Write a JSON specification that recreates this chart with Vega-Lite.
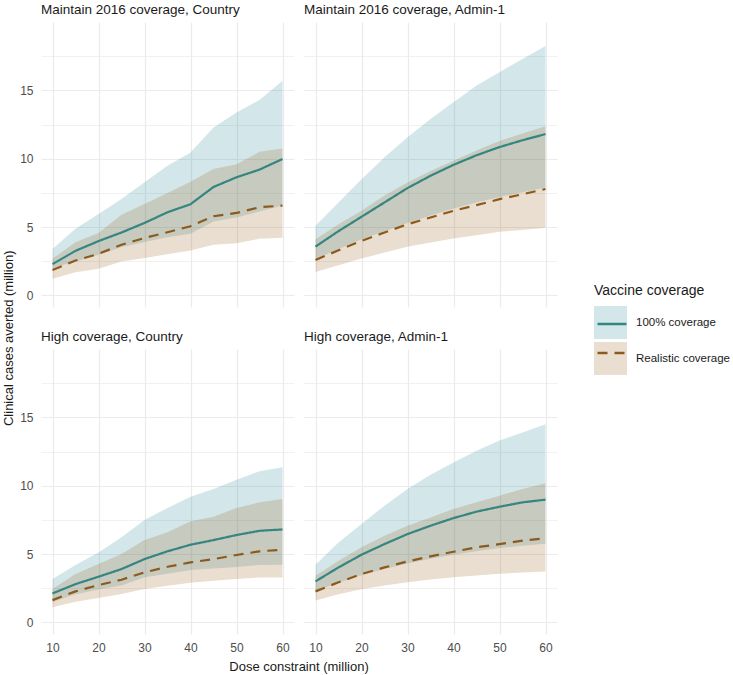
{
  "$schema": "https://vega.github.io/schema/vega-lite/v6.json",
  "padding": {"left": 2, "top": 2, "right": 0, "bottom": 2},
  "background": "white",
  "title": {"text": "Clinical cases averted (million)", "orient": "left", "anchor": "middle", "fontSize": 13, "fontWeight": "normal", "color": "#1a1a1a", "font": "Liberation Sans", "offset": 4},
  "config": {
    "view": {"stroke": null},
    "font": "Liberation Sans",
    "axis": {"domain": false, "ticks": false, "labelColor": "#4d4d4d", "labelFontSize": 12, "titleFontSize": 13, "titleColor": "#1a1a1a", "titleFontWeight": "normal", "gridColor": "#ebebeb"}
  },
  "data": {"values": [
    {"panel": "Maintain 2016 coverage, Country", "x": 10, "coverage": "100% coverage", "mid": 2.29, "lo": 2.0, "hi": 3.4},
    {"panel": "Maintain 2016 coverage, Country", "x": 15, "coverage": "100% coverage", "mid": 3.26, "lo": 2.48, "hi": 4.87},
    {"panel": "Maintain 2016 coverage, Country", "x": 20, "coverage": "100% coverage", "mid": 3.97, "lo": 2.97, "hi": 5.96},
    {"panel": "Maintain 2016 coverage, Country", "x": 25, "coverage": "100% coverage", "mid": 4.6, "lo": 3.53, "hi": 7.06},
    {"panel": "Maintain 2016 coverage, Country", "x": 30, "coverage": "100% coverage", "mid": 5.3, "lo": 3.9, "hi": 8.27},
    {"panel": "Maintain 2016 coverage, Country", "x": 35, "coverage": "100% coverage", "mid": 6.08, "lo": 4.26, "hi": 9.49},
    {"panel": "Maintain 2016 coverage, Country", "x": 40, "coverage": "100% coverage", "mid": 6.67, "lo": 4.5, "hi": 10.46},
    {"panel": "Maintain 2016 coverage, Country", "x": 45, "coverage": "100% coverage", "mid": 7.93, "lo": 5.4, "hi": 12.29},
    {"panel": "Maintain 2016 coverage, Country", "x": 50, "coverage": "100% coverage", "mid": 8.64, "lo": 5.7, "hi": 13.38},
    {"panel": "Maintain 2016 coverage, Country", "x": 55, "coverage": "100% coverage", "mid": 9.2, "lo": 6.13, "hi": 14.3},
    {"panel": "Maintain 2016 coverage, Country", "x": 60, "coverage": "100% coverage", "mid": 9.98, "lo": 6.57, "hi": 15.7},
    {"panel": "Maintain 2016 coverage, Country", "x": 10, "coverage": "Realistic coverage", "mid": 1.85, "lo": 1.22, "hi": 2.68},
    {"panel": "Maintain 2016 coverage, Country", "x": 15, "coverage": "Realistic coverage", "mid": 2.55, "lo": 1.7, "hi": 3.89},
    {"panel": "Maintain 2016 coverage, Country", "x": 20, "coverage": "Realistic coverage", "mid": 3.04, "lo": 1.95, "hi": 4.57},
    {"panel": "Maintain 2016 coverage, Country", "x": 25, "coverage": "Realistic coverage", "mid": 3.7, "lo": 2.48, "hi": 5.89},
    {"panel": "Maintain 2016 coverage, Country", "x": 30, "coverage": "Realistic coverage", "mid": 4.2, "lo": 2.73, "hi": 6.69},
    {"panel": "Maintain 2016 coverage, Country", "x": 35, "coverage": "Realistic coverage", "mid": 4.62, "lo": 3.0, "hi": 7.49},
    {"panel": "Maintain 2016 coverage, Country", "x": 40, "coverage": "Realistic coverage", "mid": 5.06, "lo": 3.28, "hi": 8.32},
    {"panel": "Maintain 2016 coverage, Country", "x": 45, "coverage": "Realistic coverage", "mid": 5.79, "lo": 3.7, "hi": 9.25},
    {"panel": "Maintain 2016 coverage, Country", "x": 50, "coverage": "Realistic coverage", "mid": 6.03, "lo": 3.82, "hi": 9.6},
    {"panel": "Maintain 2016 coverage, Country", "x": 55, "coverage": "Realistic coverage", "mid": 6.45, "lo": 4.14, "hi": 10.5},
    {"panel": "Maintain 2016 coverage, Country", "x": 60, "coverage": "Realistic coverage", "mid": 6.57, "lo": 4.21, "hi": 10.75},

    {"panel": "Maintain 2016 coverage, Admin-1", "x": 10, "coverage": "100% coverage", "mid": 3.57, "lo": 2.65, "hi": 5.09},
    {"panel": "Maintain 2016 coverage, Admin-1", "x": 15, "coverage": "100% coverage", "mid": 4.7, "lo": 3.4, "hi": 6.8},
    {"panel": "Maintain 2016 coverage, Admin-1", "x": 20, "coverage": "100% coverage", "mid": 5.75, "lo": 4.1, "hi": 8.5},
    {"panel": "Maintain 2016 coverage, Admin-1", "x": 25, "coverage": "100% coverage", "mid": 6.8, "lo": 4.7, "hi": 10.1},
    {"panel": "Maintain 2016 coverage, Admin-1", "x": 30, "coverage": "100% coverage", "mid": 7.85, "lo": 5.3, "hi": 11.56},
    {"panel": "Maintain 2016 coverage, Admin-1", "x": 35, "coverage": "100% coverage", "mid": 8.75, "lo": 5.85, "hi": 12.9},
    {"panel": "Maintain 2016 coverage, Admin-1", "x": 40, "coverage": "100% coverage", "mid": 9.55, "lo": 6.35, "hi": 14.13},
    {"panel": "Maintain 2016 coverage, Admin-1", "x": 45, "coverage": "100% coverage", "mid": 10.25, "lo": 6.8, "hi": 15.35},
    {"panel": "Maintain 2016 coverage, Admin-1", "x": 50, "coverage": "100% coverage", "mid": 10.85, "lo": 7.2, "hi": 16.33},
    {"panel": "Maintain 2016 coverage, Admin-1", "x": 55, "coverage": "100% coverage", "mid": 11.35, "lo": 7.55, "hi": 17.3},
    {"panel": "Maintain 2016 coverage, Admin-1", "x": 60, "coverage": "100% coverage", "mid": 11.8, "lo": 7.9, "hi": 18.24},
    {"panel": "Maintain 2016 coverage, Admin-1", "x": 10, "coverage": "Realistic coverage", "mid": 2.59, "lo": 1.71, "hi": 4.1},
    {"panel": "Maintain 2016 coverage, Admin-1", "x": 15, "coverage": "Realistic coverage", "mid": 3.3, "lo": 2.2, "hi": 5.2},
    {"panel": "Maintain 2016 coverage, Admin-1", "x": 20, "coverage": "Realistic coverage", "mid": 3.99, "lo": 2.69, "hi": 6.2},
    {"panel": "Maintain 2016 coverage, Admin-1", "x": 25, "coverage": "Realistic coverage", "mid": 4.6, "lo": 3.13, "hi": 7.3},
    {"panel": "Maintain 2016 coverage, Admin-1", "x": 30, "coverage": "Realistic coverage", "mid": 5.2, "lo": 3.55, "hi": 8.26},
    {"panel": "Maintain 2016 coverage, Admin-1", "x": 35, "coverage": "Realistic coverage", "mid": 5.7, "lo": 3.86, "hi": 9.1},
    {"panel": "Maintain 2016 coverage, Admin-1", "x": 40, "coverage": "Realistic coverage", "mid": 6.19, "lo": 4.16, "hi": 9.85},
    {"panel": "Maintain 2016 coverage, Admin-1", "x": 45, "coverage": "Realistic coverage", "mid": 6.6, "lo": 4.4, "hi": 10.6},
    {"panel": "Maintain 2016 coverage, Admin-1", "x": 50, "coverage": "Realistic coverage", "mid": 7.04, "lo": 4.65, "hi": 11.3},
    {"panel": "Maintain 2016 coverage, Admin-1", "x": 55, "coverage": "Realistic coverage", "mid": 7.4, "lo": 4.79, "hi": 11.85},
    {"panel": "Maintain 2016 coverage, Admin-1", "x": 60, "coverage": "Realistic coverage", "mid": 7.78, "lo": 4.95, "hi": 12.37},

    {"panel": "High coverage, Country", "x": 10, "coverage": "100% coverage", "mid": 2.12, "lo": 1.5, "hi": 3.17},
    {"panel": "High coverage, Country", "x": 15, "coverage": "100% coverage", "mid": 2.8, "lo": 2.05, "hi": 4.2},
    {"panel": "High coverage, Country", "x": 20, "coverage": "100% coverage", "mid": 3.34, "lo": 2.4, "hi": 5.12},
    {"panel": "High coverage, Country", "x": 25, "coverage": "100% coverage", "mid": 3.9, "lo": 2.7, "hi": 6.22},
    {"panel": "High coverage, Country", "x": 30, "coverage": "100% coverage", "mid": 4.63, "lo": 3.3, "hi": 7.49},
    {"panel": "High coverage, Country", "x": 35, "coverage": "100% coverage", "mid": 5.2, "lo": 3.55, "hi": 8.37},
    {"panel": "High coverage, Country", "x": 40, "coverage": "100% coverage", "mid": 5.68, "lo": 3.83, "hi": 9.2},
    {"panel": "High coverage, Country", "x": 45, "coverage": "100% coverage", "mid": 6.02, "lo": 3.95, "hi": 9.76},
    {"panel": "High coverage, Country", "x": 50, "coverage": "100% coverage", "mid": 6.39, "lo": 4.05, "hi": 10.44},
    {"panel": "High coverage, Country", "x": 55, "coverage": "100% coverage", "mid": 6.7, "lo": 4.2, "hi": 11.05},
    {"panel": "High coverage, Country", "x": 60, "coverage": "100% coverage", "mid": 6.8, "lo": 4.22, "hi": 11.34},
    {"panel": "High coverage, Country", "x": 10, "coverage": "Realistic coverage", "mid": 1.63, "lo": 1.1, "hi": 2.44},
    {"panel": "High coverage, Country", "x": 15, "coverage": "Realistic coverage", "mid": 2.27, "lo": 1.51, "hi": 3.54},
    {"panel": "High coverage, Country", "x": 20, "coverage": "Realistic coverage", "mid": 2.73, "lo": 1.78, "hi": 4.27},
    {"panel": "High coverage, Country", "x": 25, "coverage": "Realistic coverage", "mid": 3.12, "lo": 2.07, "hi": 5.0},
    {"panel": "High coverage, Country", "x": 30, "coverage": "Realistic coverage", "mid": 3.66, "lo": 2.44, "hi": 6.02},
    {"panel": "High coverage, Country", "x": 35, "coverage": "Realistic coverage", "mid": 4.07, "lo": 2.68, "hi": 6.59},
    {"panel": "High coverage, Country", "x": 40, "coverage": "Realistic coverage", "mid": 4.39, "lo": 2.9, "hi": 7.39},
    {"panel": "High coverage, Country", "x": 45, "coverage": "Realistic coverage", "mid": 4.63, "lo": 3.05, "hi": 7.73},
    {"panel": "High coverage, Country", "x": 50, "coverage": "Realistic coverage", "mid": 4.93, "lo": 3.17, "hi": 8.37},
    {"panel": "High coverage, Country", "x": 55, "coverage": "Realistic coverage", "mid": 5.2, "lo": 3.29, "hi": 8.78},
    {"panel": "High coverage, Country", "x": 60, "coverage": "Realistic coverage", "mid": 5.32, "lo": 3.29, "hi": 9.02},

    {"panel": "High coverage, Admin-1", "x": 10, "coverage": "100% coverage", "mid": 3.0, "lo": 2.3, "hi": 4.22},
    {"panel": "High coverage, Admin-1", "x": 15, "coverage": "100% coverage", "mid": 4.02, "lo": 2.9, "hi": 5.85},
    {"panel": "High coverage, Admin-1", "x": 20, "coverage": "100% coverage", "mid": 4.95, "lo": 3.45, "hi": 7.2},
    {"panel": "High coverage, Admin-1", "x": 25, "coverage": "100% coverage", "mid": 5.73, "lo": 3.9, "hi": 8.54},
    {"panel": "High coverage, Admin-1", "x": 30, "coverage": "100% coverage", "mid": 6.46, "lo": 4.3, "hi": 9.76},
    {"panel": "High coverage, Admin-1", "x": 35, "coverage": "100% coverage", "mid": 7.07, "lo": 4.65, "hi": 10.8},
    {"panel": "High coverage, Admin-1", "x": 40, "coverage": "100% coverage", "mid": 7.63, "lo": 4.95, "hi": 11.7},
    {"panel": "High coverage, Admin-1", "x": 45, "coverage": "100% coverage", "mid": 8.1, "lo": 5.2, "hi": 12.56},
    {"panel": "High coverage, Admin-1", "x": 50, "coverage": "100% coverage", "mid": 8.46, "lo": 5.45, "hi": 13.3},
    {"panel": "High coverage, Admin-1", "x": 55, "coverage": "100% coverage", "mid": 8.78, "lo": 5.6, "hi": 13.9},
    {"panel": "High coverage, Admin-1", "x": 60, "coverage": "100% coverage", "mid": 8.98, "lo": 5.75, "hi": 14.5},
    {"panel": "High coverage, Admin-1", "x": 10, "coverage": "Realistic coverage", "mid": 2.27, "lo": 1.6, "hi": 3.41},
    {"panel": "High coverage, Admin-1", "x": 15, "coverage": "Realistic coverage", "mid": 2.93, "lo": 2.05, "hi": 4.5},
    {"panel": "High coverage, Admin-1", "x": 20, "coverage": "Realistic coverage", "mid": 3.54, "lo": 2.42, "hi": 5.49},
    {"panel": "High coverage, Admin-1", "x": 25, "coverage": "Realistic coverage", "mid": 4.02, "lo": 2.7, "hi": 6.34},
    {"panel": "High coverage, Admin-1", "x": 30, "coverage": "Realistic coverage", "mid": 4.46, "lo": 2.93, "hi": 7.07},
    {"panel": "High coverage, Admin-1", "x": 35, "coverage": "Realistic coverage", "mid": 4.83, "lo": 3.13, "hi": 7.68},
    {"panel": "High coverage, Admin-1", "x": 40, "coverage": "Realistic coverage", "mid": 5.17, "lo": 3.3, "hi": 8.29},
    {"panel": "High coverage, Admin-1", "x": 45, "coverage": "Realistic coverage", "mid": 5.49, "lo": 3.43, "hi": 8.78},
    {"panel": "High coverage, Admin-1", "x": 50, "coverage": "Realistic coverage", "mid": 5.73, "lo": 3.55, "hi": 9.27},
    {"panel": "High coverage, Admin-1", "x": 55, "coverage": "Realistic coverage", "mid": 5.98, "lo": 3.65, "hi": 9.76},
    {"panel": "High coverage, Admin-1", "x": 60, "coverage": "Realistic coverage", "mid": 6.15, "lo": 3.73, "hi": 10.17}
  ]},
  "facet": {
    "field": "panel", "type": "nominal",
    "sort": ["Maintain 2016 coverage, Country", "Maintain 2016 coverage, Admin-1", "High coverage, Country", "High coverage, Admin-1"],
    "header": {"title": "Dose constraint (million)", "titleOrient": "bottom", "titleFontSize": 13, "titleColor": "#1a1a1a", "titleFontWeight": "normal", "titleFont": "Liberation Sans", "titlePadding": 8,
      "labelAnchor": "start", "labelFontSize": 13.5, "labelColor": "#1a1a1a", "labelPadding": 6, "labelFont": "Liberation Sans"}
  },
  "columns": 2,
  "spacing": {"row": 22, "column": 10},
  "spec": {
    "width": 253,
    "height": 285,
    "layer": [
      {
        "mark": {"type": "area", "opacity": 0.2},
        "encoding": {
          "x": {"field": "x", "type": "quantitative", "scale": {"domain": [7.5, 62.5], "nice": false, "zero": false},
            "axis": {"title": null, "values": [10, 15, 20, 25, 30, 35, 40, 45, 50, 55, 60], "labelExpr": "datum.value % 10 === 0 ? datum.label : ''", "labelFlush": false, "labelPadding": 8,
              "gridWidth": {"condition": {"test": "datum.value % 10 === 0", "value": 1.2}, "value": 0.7}}},
          "y": {"field": "lo", "type": "quantitative", "scale": {"domain": [-0.85, 20], "nice": false, "zero": false},
            "axis": {"title": null, "values": [0, 2.5, 5, 7.5, 10, 12.5, 15, 17.5], "labelExpr": "datum.value % 5 === 0 ? datum.label : ''", "labelPadding": 8,
              "gridWidth": {"condition": {"test": "datum.value % 5 === 0", "value": 1.2}, "value": 0.7}}},
          "y2": {"field": "hi"},
          "fill": {"field": "coverage", "type": "nominal",
            "scale": {"domain": ["100% coverage", "Realistic coverage"], "range": ["#258694", "#955b16"]},
            "legend": {"orient": "none", "legendX": 553, "legendY": 262, "title": "Vaccine coverage", "titleFontSize": 14, "titleColor": "#1a1a1a", "titleFontWeight": "normal", "titlePadding": 8,
              "symbolType": "square", "symbolSize": 1089, "symbolStrokeWidth": 0, "symbolOpacity": 0.2, "labelFontSize": 11.5, "labelColor": "#1a1a1a", "labelOffset": 9, "rowPadding": 3}}
        }
      },
      {
        "mark": {"type": "line", "strokeWidth": 2.2},
        "encoding": {
          "x": {"field": "x", "type": "quantitative"},
          "y": {"field": "mid", "type": "quantitative"},
          "stroke": {"field": "coverage", "type": "nominal",
            "scale": {"range": ["#358580", "#8c5a1c"]},
            "legend": {"orient": "none", "legendX": 555, "legendY": 286, "title": null,
              "symbolType": "stroke", "symbolSize": 841, "symbolStrokeWidth": 2.5, "labelFontSize": 11.5, "labelExpr": "''", "labelOffset": 0, "rowPadding": 7}},
          "strokeDash": {"field": "coverage", "type": "nominal", "scale": {"range": [[1, 0], [10, 7]]}}
        }
      }
    ]
  }
}
